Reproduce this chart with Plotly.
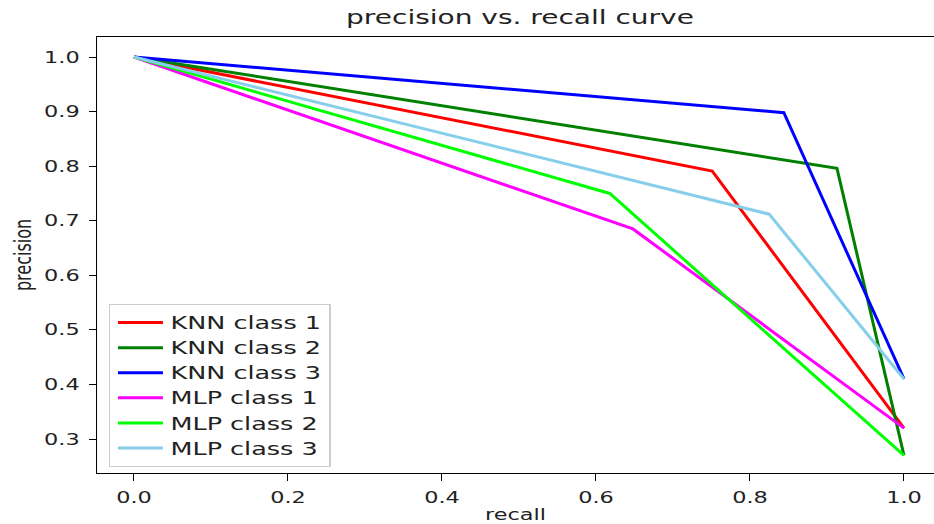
import plotly.graph_objects as go

# Precision/recall operating points per model and class: (0, 1) -> threshold point -> (1, prevalence)
series_names = ["KNN class 1", "KNN class 2", "KNN class 3",
                "MLP class 1", "MLP class 2", "MLP class 3"]
series_colors = ["#ff0000", "#008000", "#0000ff",
                 "#ff00ff", "#00ff00", "#87ceeb"]

knn1_recall = [0.0, 0.751, 1.0]
knn1_precision = [1.0, 0.791, 0.32]
knn2_recall = [0.0, 0.913, 1.0]
knn2_precision = [1.0, 0.796, 0.27]
knn3_recall = [0.0, 0.844, 1.0]
knn3_precision = [1.0, 0.898, 0.41]
mlp1_recall = [0.0, 0.648, 1.0]
mlp1_precision = [1.0, 0.685, 0.32]
mlp2_recall = [0.0, 0.618, 1.0]
mlp2_precision = [1.0, 0.750, 0.27]
mlp3_recall = [0.0, 0.825, 1.0]
mlp3_precision = [1.0, 0.712, 0.41]

x_ticks = [0.0, 0.2, 0.4, 0.6, 0.8, 1.0]
y_ticks = [0.3, 0.4, 0.5, 0.6, 0.7, 0.8, 0.9, 1.0]

recalls = [knn1_recall, knn2_recall, knn3_recall, mlp1_recall, mlp2_recall, mlp3_recall]
precisions = [knn1_precision, knn2_precision, knn3_precision,
              mlp1_precision, mlp2_precision, mlp3_precision]

FONT = "DejaVu Sans"
TXT = "#222222"

fig = go.Figure()
for name, color, r, p in zip(series_names, series_colors, recalls, precisions):
    fig.add_trace(go.Scatter(x=r, y=p, mode="lines", name=name,
                             line=dict(color=color, width=3)))

fig.update_layout(
    width=934, height=524,
    margin=dict(l=97, r=0, t=37, b=51),
    paper_bgcolor="white", plot_bgcolor="white",
    title=dict(text="precision vs. recall curve", x=520 / 934, xref="container",
               xanchor="center", y=1 - 17 / 524, yref="container", yanchor="middle",
               font=dict(family=FONT, size=20, color=TXT)),
    legend=dict(x=0.0143, y=0.0138, xanchor="left", yanchor="bottom",
                bgcolor="rgba(255,255,255,0.8)", bordercolor="#cccccc", borderwidth=1,
                font=dict(family=FONT, size=17, color=TXT)),
    showlegend=True,
)

fig.update_xaxes(range=[-0.048, 1.039], tickvals=x_ticks,
                 ticktext=[f"{v:.1f}" for v in x_ticks],
                 showgrid=False, zeroline=False, showline=True, mirror=True,
                 linecolor="black", linewidth=1.3, ticks="outside", ticklen=7,
                 tickcolor="black", tickwidth=1.3, ticklabelstandoff=3,
                 tickfont=dict(family=FONT, size=16, color=TXT),
                 title=dict(text="recall", standoff=6,
                            font=dict(family=FONT, size=16, color=TXT)))
fig.update_yaxes(range=[0.2377, 1.0367], tickvals=y_ticks,
                 ticktext=[f"{v:.1f}" for v in y_ticks],
                 showgrid=False, zeroline=False, showline=True, mirror=False,
                 linecolor="black", linewidth=1.3, ticks="outside", ticklen=7,
                 tickcolor="black", tickwidth=1.3, ticklabelstandoff=6,
                 tickfont=dict(family=FONT, size=16, color=TXT),
                 title=dict(text="precision", standoff=18,
                            font=dict(family=FONT, size=16, color=TXT)))

# Widen the horizontal text and the legend so glyphs get the broad look of the chart's font;
# the rotated y title keeps its length but gets taller glyphs instead.
widen_js = """
var gd = document.getElementById('{plot_id}');
function widen() {
  var k = 1.4;
  gd.querySelectorAll('.xtick text, .ytick text, .gtitle, .xtitle').forEach(function (t) {
    var w = t.getComputedTextLength();
    t.setAttribute('textLength', (w * k).toFixed(1));
    t.setAttribute('lengthAdjust', 'spacingAndGlyphs');
  });
  var yt = gd.querySelector('.ytitle');
  if (yt) {
    var wy = yt.getComputedTextLength();
    yt.style.fontSize = (16 * k).toFixed(1) + 'px';
    yt.setAttribute('textLength', wy.toFixed(1));
    yt.setAttribute('lengthAdjust', 'spacingAndGlyphs');
  }
  var lg = gd.querySelector('g.legend');
  if (lg) {
    var tr = lg.getAttribute('transform') || '';
    lg.setAttribute('transform', tr + ' scale(1.5,1)');
  }
}
setTimeout(widen, 0);
"""

fig.write_html("out.html", post_script=widen_js)
